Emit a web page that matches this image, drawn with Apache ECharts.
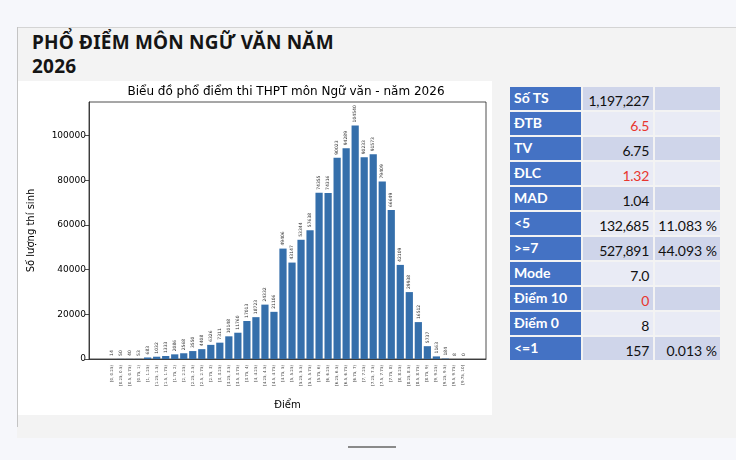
<!DOCTYPE html>
<html><head><meta charset="utf-8">
<script src="https://cdn.jsdelivr.net/npm/echarts@6/dist/echarts.min.js"></script>
<style>
body{margin:0;width:736px;height:460px;background:#f6f7fb;position:relative;overflow:hidden;font-family:"Noto Sans",sans-serif}
#card{position:absolute;left:17px;top:27px;width:719px;height:410px;background:#f3f3f3;border-top:1px solid #d4d4d4}
#lline{position:absolute;left:17px;top:27px;width:1px;height:400px;background:#c4c4c4}
#title{position:absolute;left:32px;top:30px;font-weight:bold;font-size:19px;line-height:24px;color:#151515;letter-spacing:0.2px}
#chart{position:absolute;left:18px;top:81px;width:474px;height:334px;background:#fff}
#tbl{position:absolute;left:508px;top:85px;border-collapse:separate;border-spacing:2px;font-family:"Lato",sans-serif}
#tbl td{height:23px;padding:0;box-sizing:border-box;white-space:nowrap}
#tbl td.l{width:71px;background:#4472c4;color:#fff;font-weight:bold;font-size:14px;padding-left:4px;vertical-align:top;padding-top:2px}
#tbl td.v{width:70px;text-align:right;padding-right:4px;font-size:14px;color:#111;vertical-align:bottom;padding-bottom:1px;letter-spacing:-0.3px}
#tbl td.p{width:65px;text-align:right;padding-right:3px;font-size:14px;color:#111;vertical-align:bottom;padding-bottom:1px}
#tbl tr.o td.v,#tbl tr.o td.p{background:#cfd5ea}
#tbl tr.e td.v,#tbl tr.e td.p{background:#e9ebf5}
#tbl td.red{color:#e8362f}
#hb{position:absolute;left:348px;top:446px;width:48px;height:2px;background:#8a8a8a}
</style></head>
<body>
<div id="card"></div><div id="lline"></div>
<div id="title">PHỔ ĐIỂM MÔN NGỮ VĂN NĂM<br>2026</div>
<div id="chart"></div>
<table id="tbl"></table>
<div id="hb"></div>
<script>
const chartTitle = "Biểu đồ phổ điểm thi THPT môn Ngữ văn - năm 2026";
const categories = ["[0, 0.25)","[0.25, 0.5)","[0.5, 0.75)","[0.75, 1)","[1, 1.25)","[1.25, 1.5)","[1.5, 1.75)","[1.75, 2)",
  "[2, 2.25)","[2.25, 2.5)","[2.5, 2.75)","[2.75, 3)","[3, 3.25)","[3.25, 3.5)","[3.5, 3.75)","[3.75, 4)",
  "[4, 4.25)","[4.25, 4.5)","[4.5, 4.75)","[4.75, 5)","[5, 5.25)","[5.25, 5.5)","[5.5, 5.75)","[5.75, 6)",
  "[6, 6.25)","[6.25, 6.5)","[6.5, 6.75)","[6.75, 7)","[7, 7.25)","[7.25, 7.5)","[7.5, 7.75)","[7.75, 8)",
  "[8, 8.25)","[8.25, 8.5)","[8.5, 8.75)","[8.75, 9)","[9, 9.25)","[9.25, 9.5)","[9.5, 9.75)","[9.75, 10]"];
const counts = [14,50,40,53,683,1032,1333,2086,2568,3550,4408,6326,7311,10148,11760,17013,
  18723,24332,21106,49406,43147,53344,57638,74355,74316,90023,94289,104540,90233,91573,79409,66649,
  42109,29938,16512,5737,1163,184,8,0];
const yTicks = [0,20000,40000,60000,80000,100000];
const yMax = 115000;

const tableLabels = ["Số TS","ĐTB","TV","ĐLC","MAD","<5",">=7","Mode","Điểm 10","Điểm 0","<=1"];
const tableValues = ["1,197,227","6.5","6.75","1.32","1.04","132,685","527,891","7.0","0","8","157"];
const tablePercents = ["","","","","","11.083 %","44.093 %","","","","0.013 %"];
const redRows = [1,3,8];

// table
const tbl = document.getElementById('tbl');
tableLabels.forEach((lab,i)=>{
  const tr = document.createElement('tr');
  tr.className = i%2===0 ? 'o' : 'e';
  const a = document.createElement('td'); a.className='l'; a.textContent = lab;
  const b = document.createElement('td'); b.className='v' + (redRows.includes(i)?' red':''); b.textContent = tableValues[i];
  const c = document.createElement('td'); c.className='p'; c.textContent = tablePercents[i];
  tr.append(a,b,c); tbl.appendChild(tr);
});

// chart
const PAD = 2, N = categories.length;
const xData = [], sData = [];
for (let i=0;i<PAD;i++){ xData.push('pl'+i); sData.push('-'); }
categories.forEach((c,i)=>{ xData.push(c); sData.push(counts[i]); });
for (let i=0;i<PAD;i++){ xData.push('pr'+i); sData.push('-'); }
const real = (idx)=> idx>=PAD && idx<PAD+N;

const chart = echarts.init(document.getElementById('chart'), null, {renderer:'canvas'});
chart.setOption({
  animation:false,
  title:{text:chartTitle,left:268,top:5,textAlign:'center',padding:0,
    textStyle:{fontFamily:'DejaVu Sans',fontSize:12,fontWeight:'normal',color:'#000'}},
  grid:{left:68,top:21,width:400,height:261,show:true,borderColor:'#222',borderWidth:0.8,containLabel:false},
  xAxis:{type:'category',data:xData,boundaryGap:true,
    name:'Điểm',nameLocation:'middle',nameGap:41,
    nameTextStyle:{fontFamily:'DejaVu Sans',fontSize:10,color:'#000'},
    axisLine:{lineStyle:{color:'#222',width:0.8}},
    axisTick:{alignWithLabel:true,interval:(i)=>real(i),length:3.5,lineStyle:{color:'#222',width:0.8}},
    axisLabel:{interval:(i)=>real(i),rotate:90,fontSize:4,color:'#444',margin:6,fontFamily:'DejaVu Sans',
      formatter:(v)=> (v.startsWith('pl')||v.startsWith('pr'))?'':v}},
  yAxis:{type:'value',min:0,max:yMax,
    name:'Số lượng thí sinh',nameLocation:'middle',nameGap:53,
    nameTextStyle:{fontFamily:'DejaVu Sans',fontSize:10,color:'#000'},
    axisLine:{show:true,lineStyle:{color:'#222',width:0.8}},
    splitLine:{show:false},
    axisTick:{show:true,customValues:yTicks,length:4,lineStyle:{color:'#222',width:0.8}},
    axisLabel:{customValues:yTicks,fontSize:9,color:'#000',margin:3,fontFamily:'DejaVu Sans',
      formatter:(v)=>String(v)}},
  series:[{type:'bar',data:sData,barCategoryGap:'20%',
    itemStyle:{color:'#356fab'},
    label:{show:true,position:'top',distance:3,rotate:90,align:'left',verticalAlign:'middle',
      fontSize:4.5,color:'#333',fontFamily:'DejaVu Sans'}}]
});
</script>
</body></html>
